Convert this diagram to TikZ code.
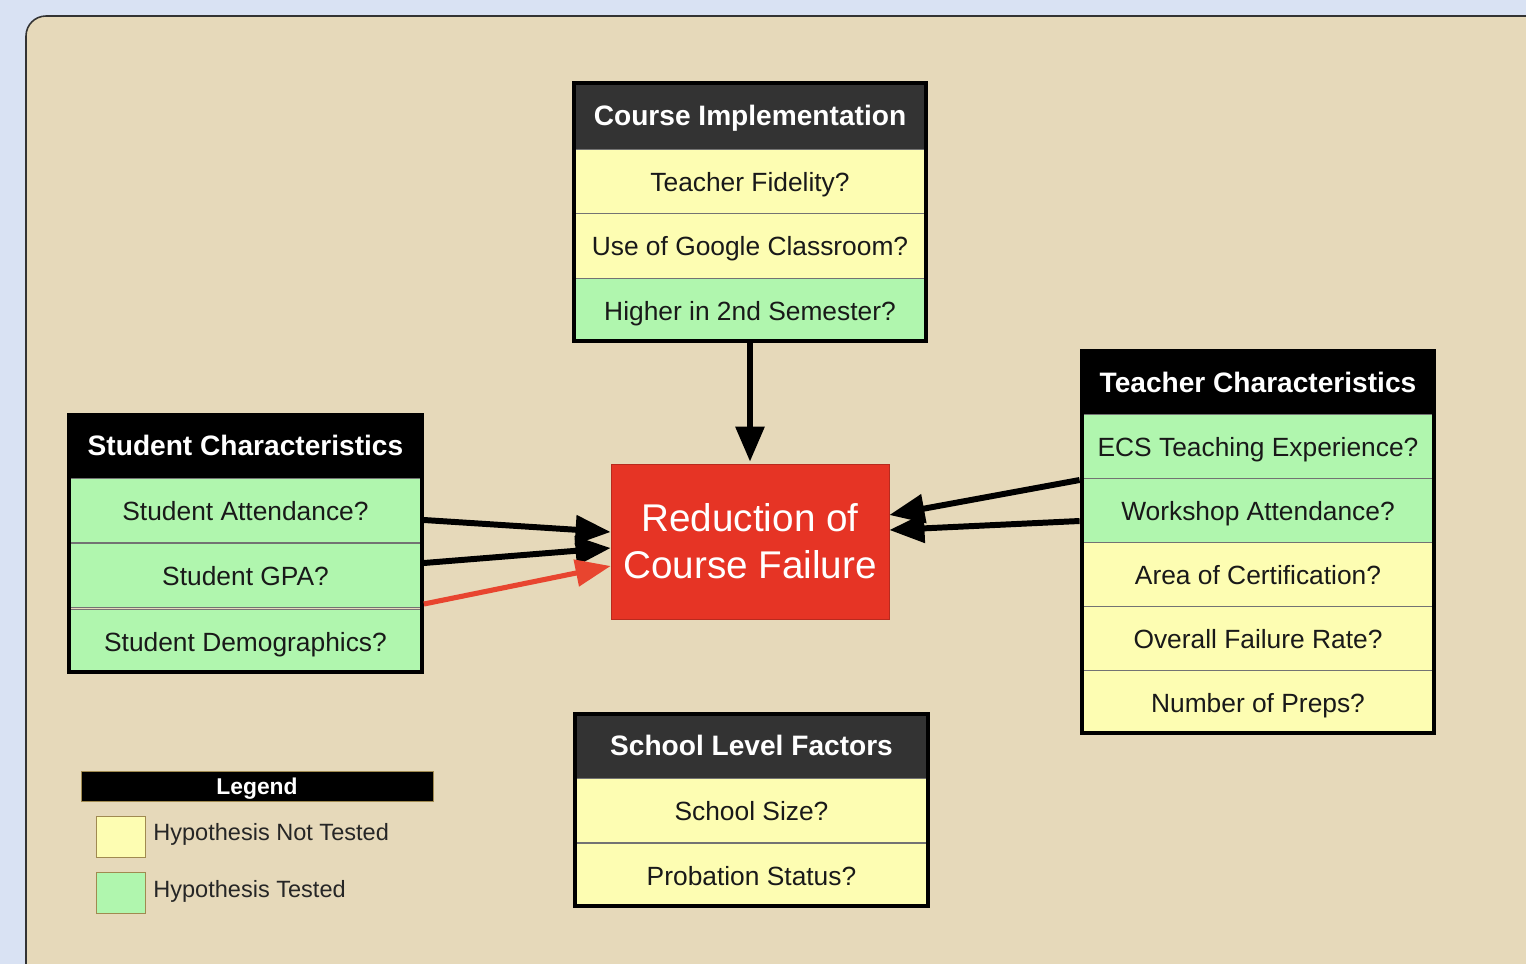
\documentclass[tikz,border=0pt]{standalone}
\usepackage{fontspec}
\setmainfont{Liberation Sans}
\usetikzlibrary{arrows.meta,calc}
\definecolor{bgblue}{HTML}{D9E2F3}
\definecolor{panelc}{HTML}{E6D9BA}
\definecolor{yel}{HTML}{FDFDB2}
\definecolor{grn}{HTML}{B0F6AE}
\definecolor{redbox}{HTML}{E63425}
\definecolor{redarrow}{HTML}{E8452F}
\definecolor{hdrgray}{HTML}{333333}
\definecolor{swatchline}{HTML}{A08A50}
\begin{document}
\begin{tikzpicture}[x=0.02cm,y=-0.02cm,
  rowbox/.style={draw=black!55, line width=0.5pt, minimum width=7.04cm, minimum height=1.29cm,
    inner sep=0pt, text depth=0pt, font=\fontsize{15}{18}\selectfont, text=black!90},
  hdrbox/.style={draw=black, line width=0.5pt, minimum width=7.04cm, inner sep=0pt, text depth=0pt,
    text=white, font=\bfseries\fontsize{16}{19}\selectfont},
  outline/.style={draw=black, line width=2.2pt},
  bigarrow/.style={line width=3.4pt, -{Triangle[length=20pt,width=16pt]}},
  redarr/.style={draw=redarrow, line width=2.9pt, -{Triangle[length=20pt,width=15pt]}},
  legtext/.style={anchor=west, inner sep=0pt, text=black!85, font=\fontsize{13.4}{16}\selectfont},
  swatch/.style={draw=swatchline, line width=0.5pt, minimum width=0.98cm, minimum height=0.82cm, inner sep=0pt},
]
% background
\fill[bgblue] (0,0) rectangle (1526,964);
\useasboundingbox (0,0) rectangle (1526,964);
\begin{scope}
  \clip (0,0) rectangle (1526,964);
  \draw[fill=panelc, draw=black!80, line width=0.9pt, rounded corners=0.4cm] (26,16) rectangle (1600,1050);
\end{scope}

% Course Implementation
\node[hdrbox, fill=hdrgray, minimum height=1.38cm] (ci0) at (750,115.5) {Course Implementation};
\node[rowbox, fill=yel] (ci1) at (750,182) {Teacher Fidelity?};
\node[rowbox, fill=yel] (ci2) at (750,246) {Use of Google Classroom?};
\node[rowbox, fill=grn] (ci3) at (750,310.5) {Higher in 2nd Semester?};
\draw[outline] ($(ci0.north west)+(0,2)$) rectangle ($(ci3.south east)+(0,-2)$);

% Teacher Characteristics
\node[hdrbox, fill=black, minimum height=1.32cm] (tc0) at (1258,382) {Teacher Characteristics};
\node[rowbox, fill=grn] (tc1) at (1258,447) {ECS Teaching Experience?};
\node[rowbox, fill=grn] (tc2) at (1258,511) {Workshop Attendance?};
\node[rowbox, fill=yel] (tc3) at (1258,575) {Area of Certification?};
\node[rowbox, fill=yel] (tc4) at (1258,639) {Overall Failure Rate?};
\node[rowbox, fill=yel] (tc5) at (1258,702.5) {Number of Preps?};
\draw[outline] ($(tc0.north west)+(0,2)$) rectangle ($(tc5.south east)+(0,-2)$);

% Student Characteristics
\node[hdrbox, fill=black, minimum height=1.3cm] (sc0) at (245.5,445.5) {Student Characteristics};
\node[rowbox, fill=grn] (sc1) at (245.5,510.5) {Student Attendance?};
\node[rowbox, fill=grn] (sc2) at (245.5,575.5) {Student GPA?};
\node[rowbox, fill=grn] (sc3) at (245.5,641.5) {Student Demographics?};
\draw[outline] ($(sc0.north west)+(0,2)$) rectangle ($(sc3.south east)+(0,-2)$);

% School Level Factors
\node[hdrbox, fill=hdrgray, minimum height=1.32cm] (sl0) at (751.5,745) {School Level Factors};
\node[rowbox, fill=yel] (sl1) at (751.5,810.5) {School Size?};
\node[rowbox, fill=yel] (sl2) at (751.5,875.5) {Probation Status?};
\draw[outline] ($(sl0.north west)+(0,2)$) rectangle ($(sl2.south east)+(0,-2)$);

% Central box
\node[fill=redbox, draw=redbox!80!black, line width=0.4pt, minimum width=5.56cm, minimum height=3.1cm,
  inner sep=0pt, align=center, text=white, font=\fontsize{22}{26.6}\selectfont] (red) at (750,541.5)
  {Reduction of\\Course Failure};

% Arrows
\draw[bigarrow] ($(ci3.south)+(0,-2)$) -- ($(red.north)+(0,-2)$);
\draw[bigarrow] ($(sc1.east)+(2,9.5)$) -- ($(red.west)+(0,-9.5)$);
\draw[bigarrow] ($(sc2.east)+(2,-12.5)$) -- ($(red.west)+(0,6.5)$);
\draw[redarr] ($(sc2.east)+(2,28.5)$) -- ($(red.west)+(0,24.5)$);
\draw[bigarrow] ($(tc1.west)+(-2,33)$) -- ($(red.east)+(0,-26.5)$);
\draw[bigarrow] ($(tc2.west)+(-2,10)$) -- ($(red.east)+(0,-11.5)$);

% Legend
\node[fill=black, draw=swatchline, line width=0.5pt, minimum width=7.04cm, minimum height=0.6cm, inner sep=0pt,
  text depth=0pt, text=white, font=\bfseries\fontsize{13}{16}\selectfont] (leg) at (257,786) {Legend};
\node[swatch, fill=yel] (sw1) at (120.5,836.5) {};
\node[swatch, fill=grn] (sw2) at (120.5,892.5) {};
\node[legtext] (lt1) at (153,834) {Hypothesis Not Tested};
\node[legtext] (lt2) at (153,891) {Hypothesis Tested};
\end{tikzpicture}
\end{document}
